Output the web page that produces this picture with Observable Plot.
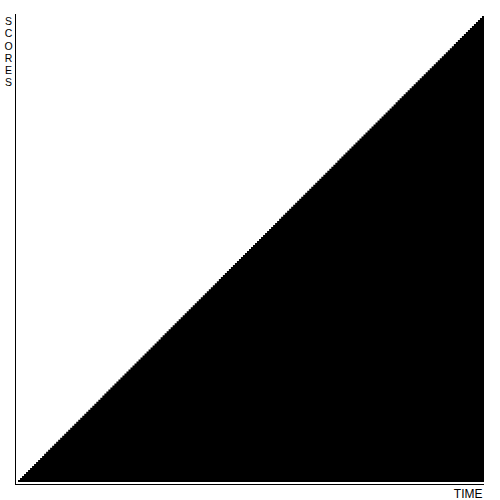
<!DOCTYPE html>
<html>
<head>
<meta charset="utf-8">
<script src="https://cdn.jsdelivr.net/npm/d3@7"></script>
<script src="https://cdn.jsdelivr.net/npm/@observablehq/plot@0.6"></script>
<style>
  body { margin: 0; background: #fff; }
  #chart svg { display: block; }
</style>
</head>
<body>
<div id="chart"></div>
<script>
// tiempo (pasos) y puntaje acumulado
const time = [
  0,1,2,3,4,5,6,7,8,9,10,11,12,13,14,15,16,17,18,19,
  20,21,22,23,24,25,26,27,28,29,30,31,32,33,34,35,36,37,38,39,
  40,41,42,43,44,45,46,47,48,49,50,51,52,53,54,55,56,57,58,59,
  60,61,62,63,64,65,66,67,68,69,70,71,72,73,74,75,76,77,78,79,
  80,81,82,83,84,85,86,87,88,89,90,91,92,93,94,95,96,97,98,99,
  100,101,102,103,104,105,106,107,108,109,110,111,112,113,114,115,116,117,118,119,
  120,121,122,123,124,125,126,127,128,129,130,131,132,133,134,135,136,137,138,139,
  140,141,142,143,144,145,146,147,148,149,150,151,152,153,154,155,156,157,158,159,
  160,161,162,163,164,165,166,167,168,169,170,171,172,173,174,175,176,177,178,179,
  180,181,182,183,184,185,186,187,188,189,190,191,192,193,194,195,196,197,198,199,
  200,201,202,203,204,205,206,207,208,209,210,211,212,213,214,215,216,217,218,219,
  220,221,222,223,224,225,226,227,228,229,230,231,232
]
const scores = [
  1,2,3,4,5,6,7,8,9,10,11,12,13,14,15,16,17,18,19,20,
  21,22,23,24,25,26,27,28,29,30,31,32,33,34,35,36,37,38,39,40,
  41,42,43,44,45,46,47,48,49,50,51,52,53,54,55,56,57,58,59,60,
  61,62,63,64,65,66,67,68,69,70,71,72,73,74,75,76,77,78,79,80,
  81,82,83,84,85,86,87,88,89,90,91,92,93,94,95,96,97,98,99,100,
  101,102,103,104,105,106,107,108,109,110,111,112,113,114,115,116,117,118,119,120,
  121,122,123,124,125,126,127,128,129,130,131,132,133,134,135,136,137,138,139,140,
  141,142,143,144,145,146,147,148,149,150,151,152,153,154,155,156,157,158,159,160,
  161,162,163,164,165,166,167,168,169,170,171,172,173,174,175,176,177,178,179,180,
  181,182,183,184,185,186,187,188,189,190,191,192,193,194,195,196,197,198,199,200,
  201,202,203,204,205,206,207,208,209,210,211,212,213,214,215,216,217,218,219,220,
  221,222,223,224,225,226,227,228,229,230,231,232,232
]
const xLabel = "TIME"
const yLabel = "SCORES"

const data = time.map((t, i) => ({ t, s: scores[i] }))

let chart = Plot.plot({
  width: 500,
  height: 500,
  marginLeft: 15,
  marginRight: 16,
  marginTop: 16,
  marginBottom: 16,
  style: { fontFamily: "Liberation Sans, Arial, sans-serif", background: "#fff" },
  x: { domain: [-1.5, 232], axis: null },
  y: { domain: [-1, 232], axis: null },
  marks: [
    Plot.areaY(data, { x: "t", y: "s", curve: "step-after", fill: "black" }),
    Plot.ruleX([-1.5], { stroke: "black", strokeWidth: 1, insetTop: -2 }),
    Plot.ruleY([-1], { stroke: "black", strokeWidth: 1 }),
    Plot.text([yLabel.split("").join("\n")], {
      frameAnchor: "top-left", textAnchor: "middle", lineAnchor: "top",
      dx: -7, dy: 0, fontSize: 10.5, lineHeight: 1.16, fill: "black"
    }),
    Plot.text([xLabel], {
      frameAnchor: "bottom-right", textAnchor: "end", lineAnchor: "top",
      dx: -2, dy: 5, fontSize: 12, fill: "black"
    })
  ]
})

d3.select('#chart').append(() => chart)
</script>
</body>
</html>
